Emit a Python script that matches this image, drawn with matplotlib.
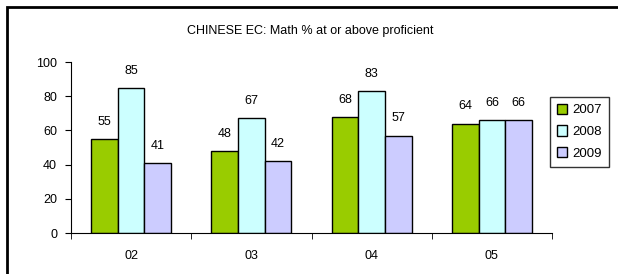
import matplotlib.pyplot as plt
import numpy as np
from matplotlib.patches import Rectangle

# data
grades = ["02", "03", "04", "05"]
years = ["2007", "2008", "2009"]
y2007 = [55, 48, 68, 64]
y2008 = [85, 67, 83, 66]
y2009 = [41, 42, 57, 66]
colors = ["#99CC00", "#CCFFFF", "#CCCCFF"]

plt.rcParams['font.family'] = ['Liberation Sans', 'DejaVu Sans']
fs = 9

fig = plt.figure(figsize=(6.18, 2.74), dpi=100)
ax = fig.add_axes([71 / 618, 41 / 274, 481 / 618, 171 / 274])

# outer chart border
fig.patches.append(Rectangle((7 / 618, -0.1), 1.2, (274 - 7) / 274 + 0.1,
                             transform=fig.transFigure, fill=False,
                             edgecolor="black", linewidth=2))

x = np.arange(len(grades))
w = 1 / 4.5
for i, vals in enumerate([y2007, y2008, y2009]):
    bars = ax.bar(x + (i - 1) * w, vals, w, color=colors[i],
                  edgecolor="black", linewidth=1, label=years[i])
    ax.bar_label(bars, padding=8, fontsize=fs)

ax.set_xlim(-0.5, len(grades) - 0.5)
ax.set_ylim(0, 100)
ax.set_yticks(range(0, 101, 20))
ax.set_xticks(x)
ax.set_xticklabels(grades)
ax.set_xticks(np.arange(-0.5, len(grades), 1), minor=True)
ax.tick_params(axis="x", which="major", length=0, pad=12, labelsize=fs)
ax.tick_params(axis="x", which="minor", length=4, direction="out")
ax.tick_params(axis="y", length=4, direction="out", pad=6, labelsize=fs)
for s in ["top", "right"]:
    ax.spines[s].set_visible(False)

fig.text(310 / 618, 1 - 31 / 274, "CHINESE EC: Math % at or above proficient",
         ha="center", va="center", fontsize=fs)

leg = ax.legend(loc="upper left", bbox_to_anchor=(550 / 618, 1 - 97 / 274),
                bbox_transform=fig.transFigure, fontsize=fs + 0.5, frameon=True,
                fancybox=False, edgecolor="black", handlelength=0.8,
                handleheight=0.8, handletextpad=0.4, borderpad=0.5,
                labelspacing=0.7, borderaxespad=0)
leg.get_frame().set_linewidth(1)

fig.savefig("out.png", dpi=100)
